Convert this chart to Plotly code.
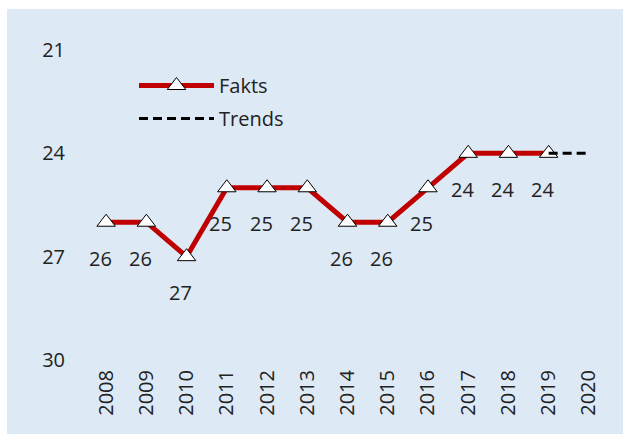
import plotly.graph_objects as go

years = [str(y) for y in range(2008, 2021)]
fact_years = years[:12]
fact_values = [26, 26, 27, 25, 25, 25, 26, 26, 25, 24, 24, 24]
trend_years = ["2019", "2020"]
trend_values = [24, 24]
y_ticks = [21, 24, 27, 30]

FONT = "Open Sans"
TXT = "#222222"
FS = 20
BG = "#dde9f5"

fig = go.Figure()
fig.add_trace(go.Scatter(
    x=fact_years, y=fact_values, name="Fakts", mode="lines+markers",
    line=dict(color="#c00000", width=5),
    marker=dict(symbol="triangle-up", size=16, color="white",
                line=dict(color="black", width=1)),
    legendgroup="a",
))
fig.add_trace(go.Scatter(
    x=trend_years, y=trend_values, name="Trends", mode="lines",
    line=dict(color="black", width=3, dash="9px,5px"),
    legendgroup="b",
))

# category axis: annotations positioned by category index
for yr, v in zip(fact_years, fact_values):
    fig.add_annotation(x=years.index(yr), y=v, text=str(v), showarrow=False,
                       xshift=-6, yshift=-36,
                       font=dict(family=FONT, size=FS, color=TXT))

W, H = 623, 434
L, R, T, B = 86, 14, 50, 74
pw, ph = W - L - R, H - T - B

fig.add_shape(type="rect", xref="paper", yref="paper", layer="below",
              x0=(7 - L) / pw, x1=(W + 2 - L) / pw,
              y0=(H - B - H - 2) / ph, y1=(H - B - 9) / ph,
              fillcolor=BG, line=dict(width=0))

fig.update_layout(
    width=W, height=H,
    margin=dict(l=L, r=R, t=T, b=B),
    paper_bgcolor="white", plot_bgcolor="rgba(0,0,0,0)",
    font=dict(family=FONT, size=FS, color=TXT),
    showlegend=True,
    legend=dict(x=(134 - L) / pw, y=(H - B - 66) / ph, xanchor="left", yanchor="top",
                bgcolor="rgba(0,0,0,0)", itemwidth=75, traceorder="grouped",
                tracegroupgap=4, font=dict(family=FONT, size=FS, color=TXT)),
    xaxis=dict(type="category", categoryorder="array", categoryarray=years,
               range=[-0.5, 12.5], tickangle=-90, showgrid=False, zeroline=False,
               showline=False, ticks="outside", ticklen=1, tickcolor="rgba(0,0,0,0)",
               tickfont=dict(family=FONT, size=FS, color=TXT), fixedrange=True),
    yaxis=dict(range=[30, 21], tickvals=y_ticks, showgrid=False, zeroline=False,
               showline=False, ticks="outside", ticklen=16, tickcolor="rgba(0,0,0,0)",
               tickfont=dict(family=FONT, size=FS, color=TXT), fixedrange=True),
)
fig.write_html(
    "out.html",
    config={"displayModeBar": False},
    post_script="document.body.style.margin='0';document.body.style.overflow='hidden';",
)
